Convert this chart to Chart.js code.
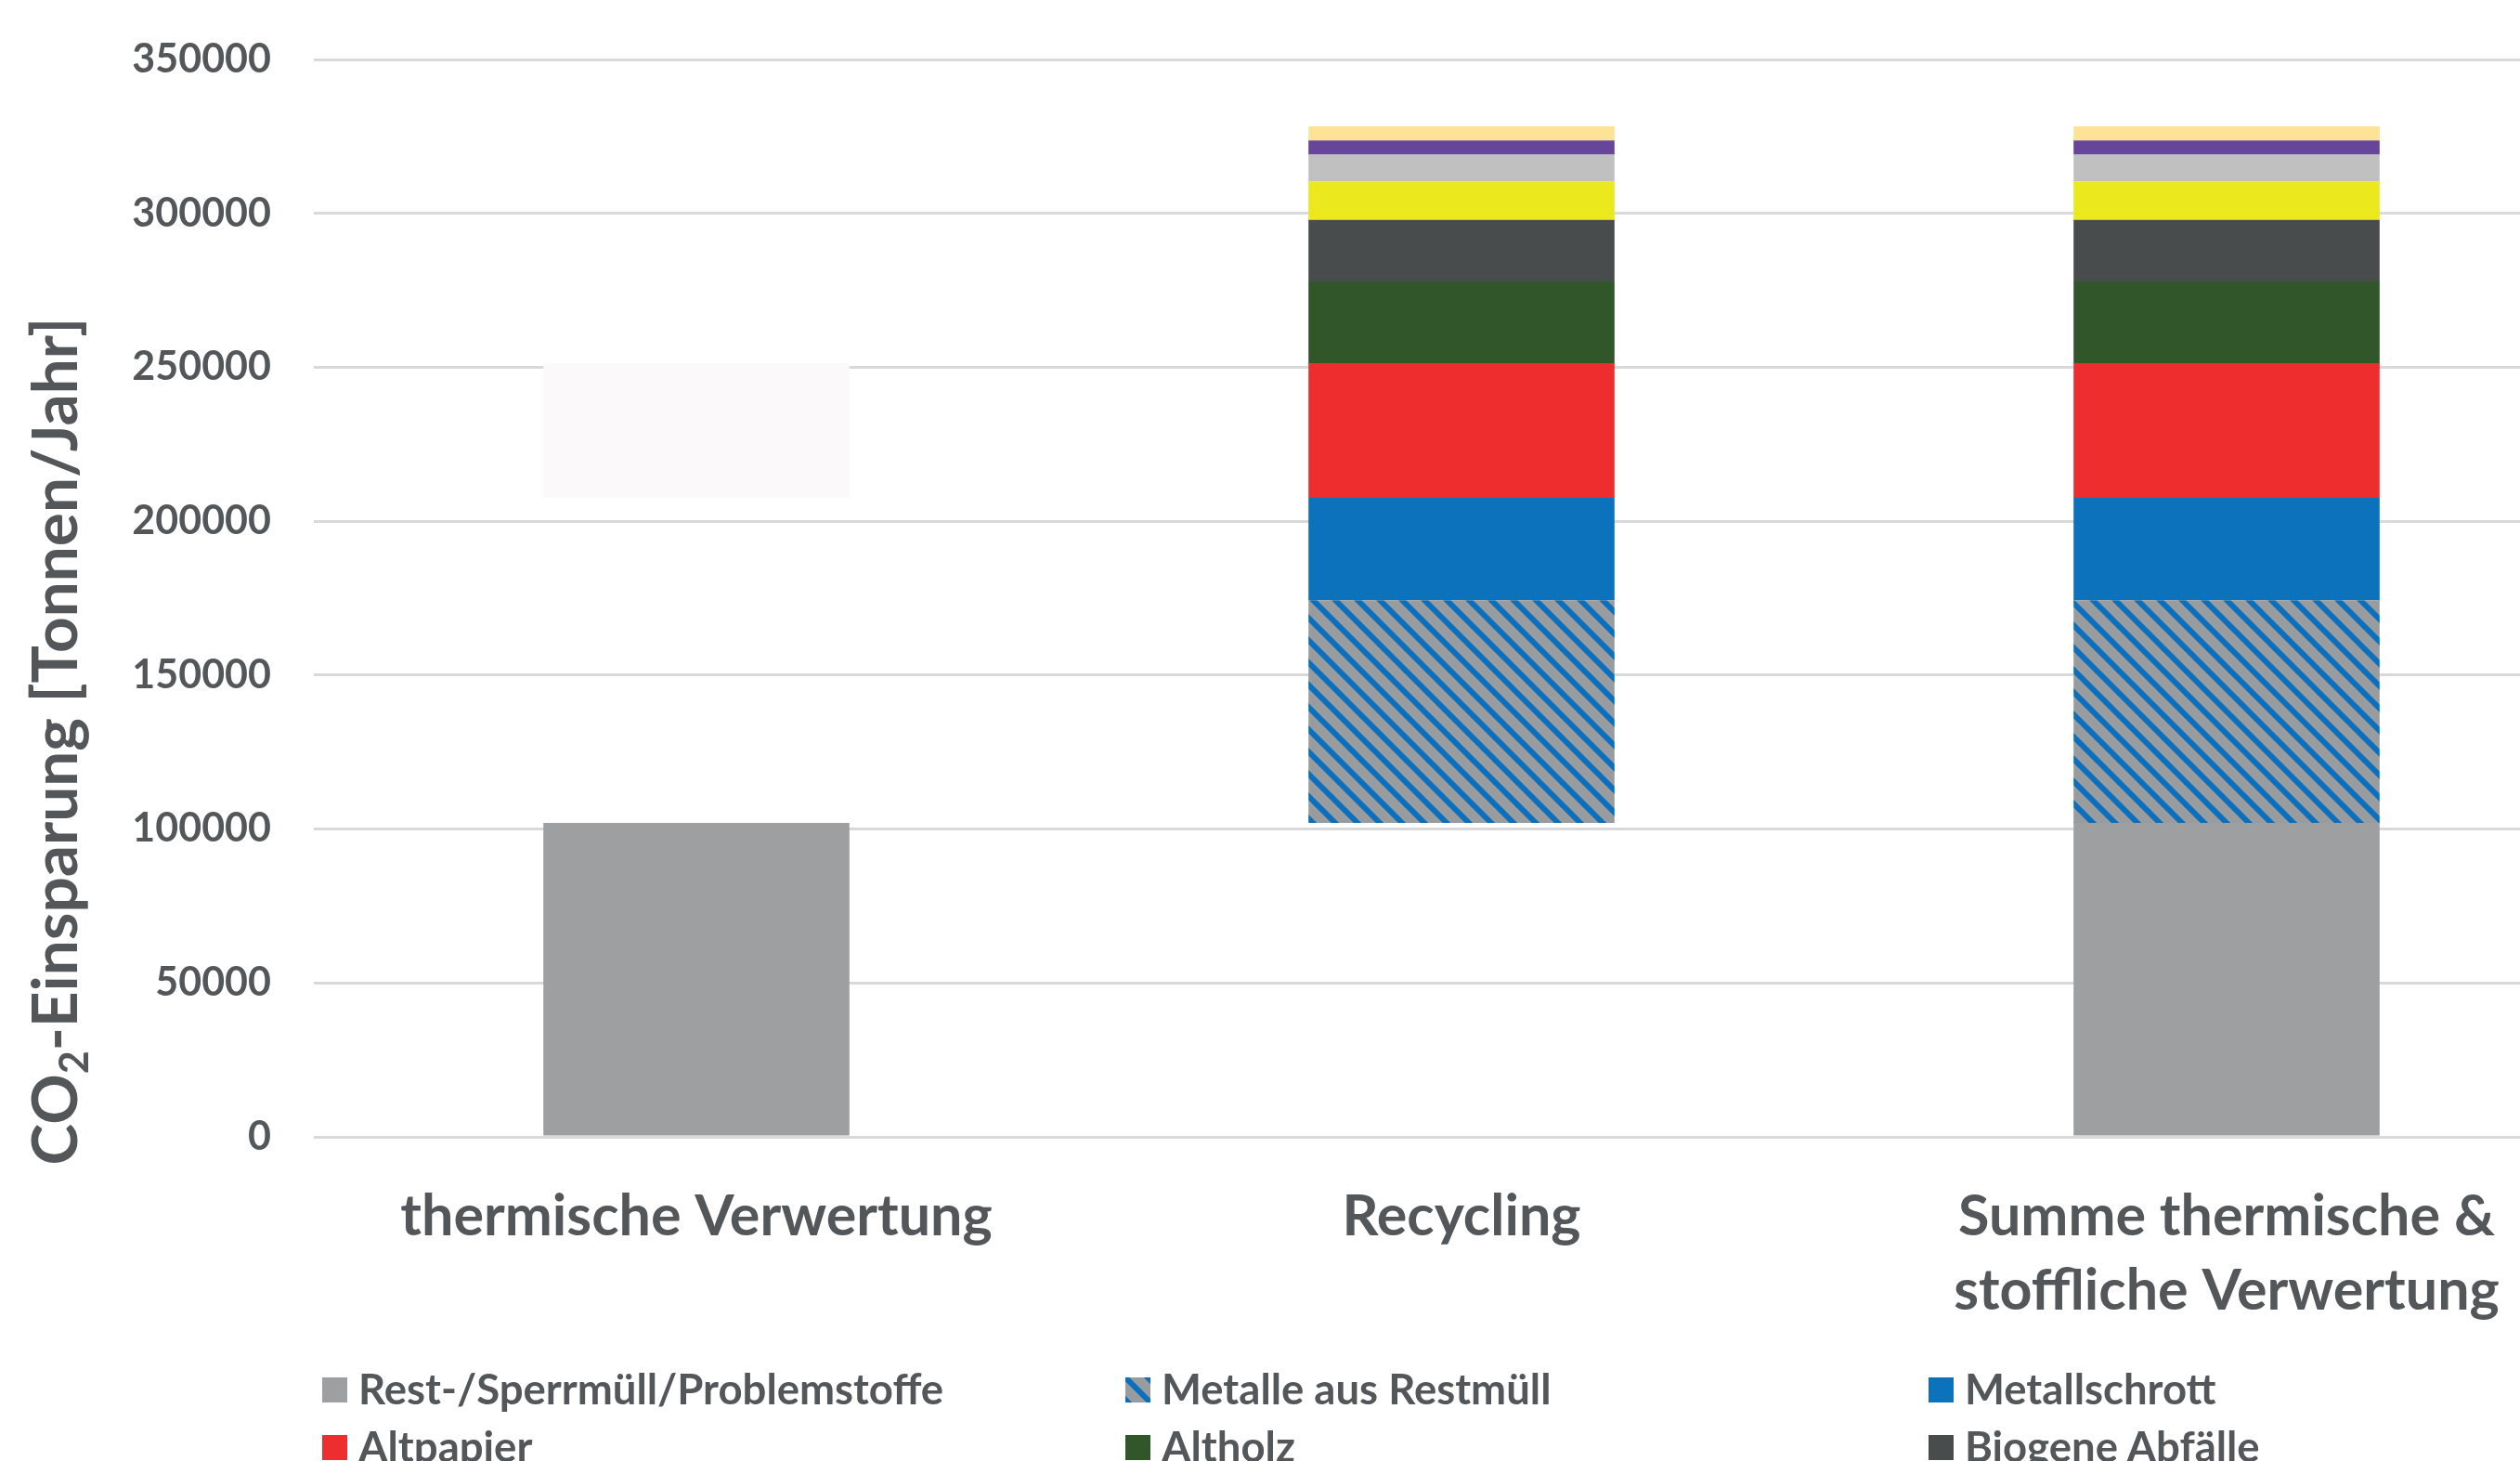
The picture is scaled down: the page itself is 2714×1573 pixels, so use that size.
<!DOCTYPE html>
<html lang="de">
<head>
<meta charset="utf-8">
<title>CO2-Einsparung</title>
<script src="https://cdn.jsdelivr.net/npm/chart.js@4.4.1/dist/chart.umd.min.js"></script>
<style>
  html, body { margin: 0; padding: 0; background: #fff; overflow: hidden; }
  #wrap { position: relative; width: 2714px; height: 1573px; overflow: hidden; }
  #chart { position: absolute; left: 0; top: 0; }
  #legend {
    position: absolute; left: 347px; top: 1464px;
    display: grid; grid-template-columns: repeat(3, 865px);
    font: bold 45.5px Lato, sans-serif; color: #53575a;
  }
  .item { display: flex; align-items: center; height: 62px; line-height: 62px; white-space: nowrap; }
  .box { width: 27px; height: 27px; margin-right: 12px; margin-top: 3px; flex: none; }
</style>
</head>
<body>
<div id="wrap">
  <canvas id="chart" width="2810" height="1573"></canvas>
  <div id="legend"></div>
</div>
<script>
// Kategorien (x-Achse)
const categories = [
    ['thermische Verwertung'],
    ['Recycling'],
    ['Summe thermische &', 'stoffliche Verwertung']
];

// y-Achse
const yMin = 0;
const yMax = 350000;
const yStep = 50000;

// Werte je Fraktion (Tonnen CO2 / Jahr), von unten nach oben gestapelt
const restSperrmuell   = [102000, 102000, 102000];
const metalleRestmuell = [72300, 72300, 72300];
const metallschrott    = [33300, 33300, 33300];
const altpapier        = [43700, 43700, 43700];
const altholz          = [null, 26600, 26600];
const biogeneAbfaelle  = [null, 20000, 20000];
const leichtverpackung = [null, 12500, 12500];
const altglas          = [null, 8700, 8700];
const elektroalt       = [null, 4600, 4600];
const textilien        = [null, 4600, 4600];

const textColor = '#53575a';
const none = 'rgba(0,0,0,0)';

function makeHatch() {
    const c = document.createElement('canvas');
    c.width = 24;
    c.height = 24;
    const g = c.getContext('2d');
    g.fillStyle = '#999c9e';
    g.fillRect(0, 0, 24, 24);
    g.strokeStyle = '#0a70be';
    g.lineWidth = 6;
    for (const k of [-24, 0, 24]) {
        g.beginPath();
        g.moveTo(k - 4, -4);
        g.lineTo(k + 28, 28);
        g.stroke();
    }
    return c;
}

const hatchTile = makeHatch();
const hatch = document.getElementById('chart').getContext('2d').createPattern(hatchTile, 'repeat');

// Serien: Name, Werte, Farbe je Säule, Legendenfarbe
const series = [
    { label: 'Rest-/Sperrmüll/Problemstoffe', data: restSperrmuell, color: ['#9d9fa0', none, '#9d9fa0'], swatch: '#9d9fa0' },
    { label: 'Metalle aus Restmüll', data: metalleRestmuell, color: [none, hatch, hatch], swatch: 'hatch' },
    { label: 'Metallschrott', data: metallschrott, color: [none, '#0b72bb', '#0b72bb'], swatch: '#0b72bb' },
    { label: 'Altpapier', data: altpapier, color: ['#fcf9fa', '#ee2e2e', '#ee2e2e'], swatch: '#ee2e2e' },
    { label: 'Altholz', data: altholz, color: '#30562a', swatch: '#30562a' },
    { label: 'Biogene Abfälle', data: biogeneAbfaelle, color: '#494c4d', swatch: '#494c4d' },
    { label: 'Leichtverpackungen', data: leichtverpackung, color: '#ebe81e', swatch: '#ebe81e' },
    { label: 'Altglas', data: altglas, color: '#bfc0bf', swatch: '#bfc0bf' },
    { label: 'Elektroaltgeräte', data: elektroalt, color: '#674599', swatch: '#674599' },
    { label: 'Textilien', data: textilien, color: '#fde396', swatch: '#fde396' }
];

// y-Achsentitel mit tiefgestellter 2
const yTitlePlugin = {
    id: 'yTitle',
    afterDraw(chart) {
        const ctx = chart.ctx;
        const parts = [
            ['CO', 'bold 67.5px Lato', 0],
            ['2', 'bold 43px Lato', 12],
            ['-Einsparung [Tonnen/Jahr]', 'bold 67.5px Lato', 0]
        ];
        ctx.save();
        ctx.fillStyle = textColor;
        ctx.textBaseline = 'alphabetic';
        ctx.textAlign = 'left';
        ctx.translate(83, 798);
        ctx.rotate(-Math.PI / 2);
        let total = 0;
        parts.forEach(p => { ctx.font = p[1]; total += ctx.measureText(p[0]).width; });
        let x = -total / 2;
        parts.forEach(p => {
            ctx.font = p[1];
            ctx.fillText(p[0], x, p[2]);
            x += ctx.measureText(p[0]).width;
        });
        ctx.restore();
    }
};

function buildLegend() {
    const legend = document.getElementById('legend');
    // im Original sind nur die ersten beiden Zeilen sichtbar
    series.slice(0, 6).forEach(s => {
        const item = document.createElement('div');
        item.className = 'item';
        const box = document.createElement('span');
        box.className = 'box';
        if (s.swatch === 'hatch') {
            box.style.backgroundImage = 'url(' + hatchTile.toDataURL() + ')';
        } else {
            box.style.background = s.swatch;
        }
        const txt = document.createElement('span');
        txt.textContent = s.label;
        item.appendChild(box);
        item.appendChild(txt);
        legend.appendChild(item);
    });
}

function draw() {
    const ctx = document.getElementById('chart').getContext('2d');
    new Chart(ctx, {
        type: 'bar',
        data: {
            labels: categories,
            datasets: series.map(s => ({
                label: s.label,
                data: s.data,
                backgroundColor: s.color,
                borderWidth: 0
            }))
        },
        options: {
            responsive: false,
            animation: false,
            devicePixelRatio: 1,
            layout: { padding: { left: 0, right: 0, top: 64, bottom: 149 } },
            datasets: { bar: { categoryPercentage: 1, barPercentage: 0.4 } },
            plugins: {
                legend: { display: false },
                tooltip: { enabled: false }
            },
            scales: {
                x: {
                    stacked: true,
                    grid: { display: false, drawTicks: false },
                    border: { display: false },
                    ticks: {
                        color: textColor,
                        font: { family: 'Lato', weight: 'bold', size: 61, lineHeight: 1.31 },
                        padding: 46,
                        maxRotation: 0,
                        autoSkip: false
                    },
                    afterFit: s => { s.height = 200; }
                },
                y: {
                    stacked: true,
                    min: yMin,
                    max: yMax,
                    grid: { color: '#d9d9d9', lineWidth: 3, drawTicks: false },
                    border: { display: false },
                    ticks: {
                        stepSize: yStep,
                        padding: 46,
                        color: textColor,
                        font: { family: 'Lato', weight: 'bold', size: 43 },
                        callback: v => String(v)
                    },
                    afterFit: s => {
                        s.width = 338;
                        // Tick-Padding soll die Zeichenfläche oben nicht verkleinern
                        s.paddingTop = 0;
                        s.paddingBottom = 0;
                    }
                }
            }
        },
        plugins: [yTitlePlugin]
    });
    buildLegend();
}

document.fonts.load('bold 43px Lato').then(draw, draw);
</script>
</body>
</html>
